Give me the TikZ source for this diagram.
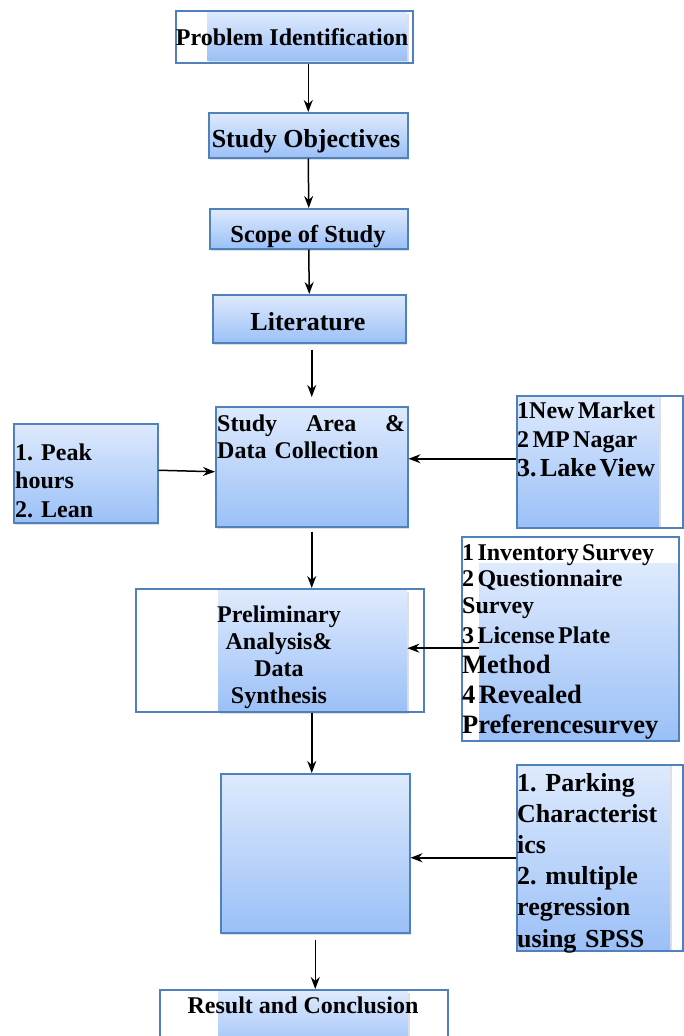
\documentclass[tikz,border=0pt]{standalone}
\usepackage{fontspec}
\setmainfont{Liberation Serif}
\usetikzlibrary{arrows.meta,shadows,calc}
\definecolor{bordc}{RGB}{79,129,189}
\definecolor{gtop}{RGB}{222,234,253}
\definecolor{gbot}{RGB}{155,192,247}
\newcommand{\fsz}[2]{\fontsize{#1}{#2}\selectfont}
\frenchspacing
\tikzset{
  shad/.style={drop shadow={shadow xshift=1.5pt,shadow yshift=-2pt,opacity=0.25}},
  gbox/.style={rectangle, draw=bordc, line width=1.5pt, top color=gtop, bottom color=gbot, inner sep=0pt, anchor=north west, shad},
  gfill/.style={rectangle, draw=none, top color=gtop, bottom color=gbot, inner sep=0pt, anchor=north west, shad},
  obox/.style={rectangle, draw=bordc, line width=1.5pt, inner sep=0pt, anchor=north west},
  ctxt/.style={font=\bfseries, inner sep=0pt, anchor=base},
  ltxt/.style={font=\bfseries, inner sep=0pt, anchor=base west, text width=250pt, align=left},
  arr/.style={-{Stealth[length=12pt,width=9pt]}, line width=1.5pt, black}
}
\begin{document}
\begin{tikzpicture}[x=1pt,y=1pt]
\useasboundingbox (0,0) rectangle (683,-1036);
\fill[white] (0,0) rectangle (683,-1036);

% Problem Identification
\node[gfill, minimum width=200pt, minimum height=48pt] (piin) at (207,-12) {};
\node[obox, minimum width=237pt, minimum height=52pt] (pi) at (175,-10) {};
\node[ctxt, font=\bfseries\fsz{24}{28}] (pit) at (292,-45) {Problem Identification};

% Study Objectives
\node[gbox, minimum width=199pt, minimum height=45pt] (so) at (208,-112) {};
\node[ctxt, font=\bfseries\fsz{26}{30}] (sot) at (306,-147) {Study Objectives};

% Scope of Study
\node[gbox, minimum width=198pt, minimum height=40pt] (sc) at (209,-208) {};
\node[ctxt, font=\bfseries\fsz{24.5}{28}] (sct) at (308,-242) {Scope of Study};

% Literature
\node[gbox, minimum width=193pt, minimum height=48pt] (lit) at (212,-294) {};
\node[ctxt, font=\bfseries\fsz{26}{30}] (litt) at (308,-330) {Literature};

% Study Area
\node[gbox, minimum width=192pt, minimum height=120pt] (sa) at (215,-406) {};
\node[ltxt, font=\bfseries\fsz{24}{27}] (sat) at (217,-431) {\hbox to 188pt{Study\hfill Area\hfill\&}\par Data Collection};

% Peak hours
\node[gbox, minimum width=144pt, minimum height=99pt] (peak) at (13,-423) {};
\node[ltxt, font=\bfseries\fsz{24}{28.5}] (peakt) at (15,-460) {1. Peak\par hours\par 2. Lean};

% New Market
\node[gfill, minimum width=143pt, minimum height=132pt] (nmin) at (516,-395) {};
\node[obox, minimum width=166pt, minimum height=132pt] (nm) at (516,-395) {};
\node[ltxt] (nmt) at (517,-418) {{\fsz{24}{29}1New Market\par}{\fsz{24}{29}2 MP Nagar\par}{\fsz{26}{29}3. Lake View\par}};

% Preliminary
\node[gfill, minimum width=189pt, minimum height=122pt] (prin) at (218,-590) {};
\node[obox, minimum width=288pt, minimum height=123pt] (pr) at (135,-588) {};
\node[ctxt, text width=200pt, align=center, font=\bfseries\fsz{24}{27.3}] (prt) at (279,-622) {Preliminary\\ Analysis\&\\ Data\\ Synthesis};

% Surveys
\node[gfill, minimum width=199pt, minimum height=176pt] (svin) at (479,-563) {};
\node[obox, minimum width=217pt, minimum height=204pt] (sv) at (461,-536) {};
\node[ltxt] (svt) at (462,-560) {{\fsz{24}{26.5}1 Inventory Survey\par}{\fsz{24}{26.5}2 Questionnaire\par}{\fsz{24}{26.5}Survey\par}{\fsz{24}{30}3 License Plate\par}{\fsz{26.5}{30}Method\par}{\fsz{26.5}{30}4 Revealed\par}{\fsz{26.5}{30}Preferencesurvey\par}};

% Empty analysis box
\node[gbox, minimum width=189pt, minimum height=159pt] (em) at (220,-773) {};

% Parking
\node[gfill, minimum width=154pt, minimum height=186pt] (pkin) at (516,-764) {};
\node[obox, minimum width=166pt, minimum height=186pt] (pk) at (516,-764) {};
\node[ltxt, font=\bfseries\fsz{26}{31.2}] (pkt) at (517,-791) {1. Parking\par Characterist\par ics\par 2. multiple\par regression\par using SPSS};

% Result
\node[gfill, minimum width=190pt, minimum height=60pt] (rsin) at (218,-991) {};
\node[obox, minimum width=288pt, minimum height=60pt] (rs) at (159,-989) {};
\node[ctxt, font=\bfseries\fsz{24}{28}] (rst) at (303,-1013) {Result and Conclusion};

% connectors
\draw[arr] (so.north |- pi.south) -- (so.north);
\draw[arr] (so.south) -- (sc.north);
\draw[arr] (sc.south) -- (lit.north);
\draw[arr, shorten <=6pt, shorten >=9pt] (lit.south -| sa.north) -- (sa.north);
\draw[arr] ([yshift=3pt]peak.east) -- ([yshift=-5pt]sa.west);
\draw[arr] ([yshift=3pt]nm.west) -- ([yshift=3pt]nm.west -| sa.east);
\draw[arr, shorten <=4pt] (sa.south) -- (sa.south |- pr.north);
\draw[arr] ([yshift=3pt]svin.west) -- ([yshift=3pt]svin.west -| prin.east);
\draw[arr] (sa.south |- pr.south) -- (sa.south |- em.north);
\draw[arr] (pk.west) -- (pk.west -| em.east);
\draw[arr, shorten <=6pt] (em.south) -- (em.south |- rs.north);
\end{tikzpicture}
\end{document}
